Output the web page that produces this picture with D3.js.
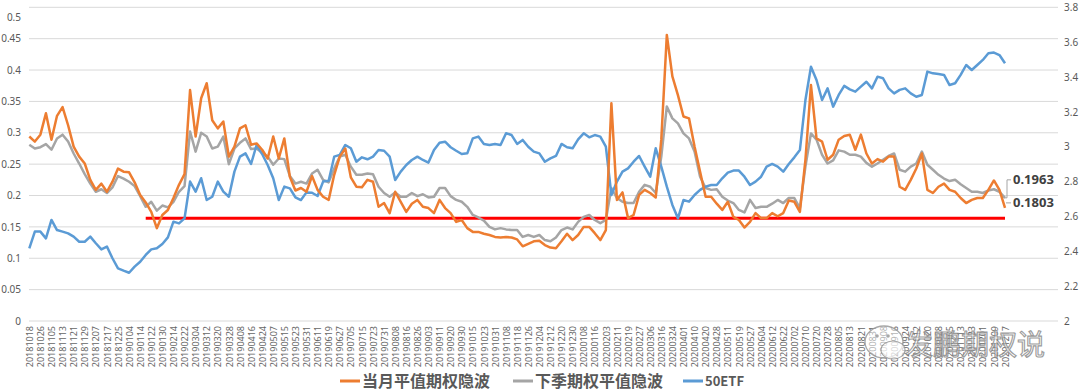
<!DOCTYPE html>
<html>
<head>
<meta charset="utf-8">
<script src="https://cdn.jsdelivr.net/npm/d3@7"></script>
<style>
  body { margin: 0; background: #fff; }
  svg { display: block; }
  text { font-family: "Noto Sans", "Noto Sans CJK SC", sans-serif; }
</style>
</head>
<body>
<svg id="chart" width="1080" height="392"></svg>
<script>
// tick labels, one every 6 trading days (= every 2nd data point)
const dateLabels = [
  "20181018","20181026","20181105","20181113","20181121","20181129","20181207","20181217","20181225",
  "20190104","20190114","20190122","20190130","20190214","20190222","20190304","20190312","20190320","20190328",
  "20190408","20190416","20190424","20190507","20190515","20190523","20190531","20190611","20190619","20190627",
  "20190705","20190715","20190723","20190731","20190808","20190816","20190826","20190903","20190911","20190920",
  "20190930","20191015","20191023","20191031","20191108","20191118","20191126","20191204","20191212","20191220",
  "20191230","20200108","20200116","20200203","20200211","20200219","20200227","20200306","20200316","20200324",
  "20200401","20200410","20200420","20200428","20200511","20200519","20200527","20200604","20200612","20200622",
  "20200702","20200710","20200720","20200728","20200805","20200813","20200821","20200831","20200908","20200916",
  "20200924","20201012","20201020","20201028","20201105","20201113","20201123","20201201","20201209","20201217"
];

// 当月平值期权隐波 (every 3rd trading day)
const ivFront = [
  0.294,0.286,0.297,0.331,0.289,0.327,0.341,0.312,0.278,0.262,0.251,0.225,0.209,0.219,0.206,0.222,0.243,0.238,0.237,0.221,
  0.201,0.189,0.174,0.148,0.169,0.177,0.196,0.217,0.234,0.368,0.294,0.355,0.379,0.320,0.307,0.318,0.262,0.278,0.307,0.312,
  0.281,0.283,0.273,0.259,0.294,0.259,0.291,0.230,0.208,0.212,0.206,0.231,0.209,0.198,0.193,0.233,0.262,0.275,0.229,0.214,
  0.213,0.225,0.222,0.182,0.188,0.172,0.206,0.190,0.174,0.187,0.193,0.182,0.180,0.172,0.193,0.180,0.172,0.158,0.161,0.148,
  0.142,0.142,0.139,0.137,0.134,0.133,0.134,0.133,0.130,0.119,0.123,0.127,0.128,0.121,0.117,0.116,0.127,0.139,0.129,0.137,
  0.150,0.150,0.140,0.129,0.145,0.347,0.193,0.205,0.164,0.169,0.201,0.209,0.204,0.197,0.289,0.456,0.390,0.360,0.326,0.323,
  0.278,0.238,0.198,0.198,0.187,0.177,0.190,0.166,0.161,0.149,0.158,0.172,0.164,0.164,0.172,0.167,0.172,0.192,0.190,0.174,
  0.257,0.376,0.291,0.286,0.257,0.265,0.289,0.295,0.297,0.273,0.297,0.267,0.251,0.258,0.254,0.262,0.262,0.214,0.209,0.225,
  0.243,0.267,0.209,0.204,0.214,0.219,0.209,0.206,0.196,0.188,0.193,0.196,0.196,0.209,0.224,0.209,0.1803
];

// 下季期权平值隐波
const ivNext = [
  0.281,0.275,0.277,0.282,0.273,0.291,0.297,0.286,0.267,0.251,0.234,0.219,0.206,0.210,0.204,0.213,0.231,0.227,0.222,0.215,
  0.199,0.182,0.190,0.176,0.184,0.181,0.190,0.206,0.215,0.302,0.270,0.300,0.294,0.275,0.278,0.294,0.250,0.275,0.284,0.291,
  0.274,0.275,0.268,0.262,0.249,0.259,0.258,0.231,0.219,0.222,0.219,0.235,0.241,0.225,0.221,0.243,0.262,0.265,0.246,0.233,
  0.233,0.235,0.234,0.214,0.204,0.198,0.205,0.198,0.198,0.204,0.199,0.202,0.197,0.198,0.212,0.212,0.199,0.193,0.190,0.182,
  0.169,0.165,0.160,0.150,0.146,0.148,0.146,0.145,0.145,0.134,0.137,0.134,0.137,0.129,0.127,0.133,0.145,0.149,0.146,0.158,
  0.166,0.169,0.161,0.156,0.161,0.212,0.196,0.190,0.188,0.188,0.206,0.217,0.214,0.204,0.262,0.342,0.323,0.315,0.299,0.291,
  0.270,0.230,0.212,0.209,0.210,0.198,0.192,0.188,0.177,0.173,0.193,0.180,0.182,0.182,0.187,0.193,0.188,0.196,0.196,0.180,
  0.246,0.299,0.289,0.265,0.251,0.256,0.272,0.270,0.265,0.265,0.262,0.252,0.246,0.251,0.257,0.263,0.267,0.241,0.238,0.246,
  0.251,0.270,0.249,0.241,0.233,0.227,0.223,0.225,0.218,0.212,0.206,0.206,0.204,0.208,0.210,0.206,0.1963
];

// 50ETF (right axis)
const etf = [
  2.417,2.513,2.513,2.474,2.580,2.522,2.513,2.503,2.484,2.455,2.455,2.484,2.446,2.411,2.427,2.360,2.302,2.289,2.277,2.312,
  2.340,2.379,2.411,2.417,2.442,2.480,2.570,2.560,2.589,2.800,2.742,2.819,2.694,2.713,2.800,2.742,2.713,2.857,2.943,2.962,
  2.901,3.010,2.958,2.895,2.819,2.694,2.771,2.761,2.710,2.694,2.738,2.736,2.717,2.800,2.805,2.943,2.953,3.010,2.991,2.914,
  2.939,2.928,2.943,2.981,2.977,2.943,2.809,2.857,2.895,2.924,2.943,2.924,2.909,2.981,3.023,3.029,2.997,2.977,2.958,2.962,
  3.048,3.058,3.016,3.010,3.016,3.010,3.077,3.067,3.016,3.039,3.000,2.972,2.962,2.914,2.933,2.947,3.016,2.997,2.991,3.042,
  3.077,3.054,3.067,3.058,3.000,2.723,2.800,2.857,2.876,2.914,2.947,2.886,2.828,2.991,2.886,2.771,2.666,2.589,2.694,2.685,
  2.723,2.752,2.771,2.780,2.780,2.819,2.851,2.863,2.863,2.828,2.780,2.800,2.828,2.886,2.901,2.886,2.857,2.901,2.939,2.981,
  3.268,3.459,3.383,3.268,3.335,3.230,3.297,3.349,3.329,3.316,3.345,3.373,3.335,3.402,3.393,3.335,3.306,3.326,3.335,3.306,
  3.287,3.297,3.431,3.421,3.417,3.412,3.354,3.364,3.412,3.469,3.440,3.469,3.498,3.536,3.540,3.526,3.479
];

const leftTicks = [0, 0.05, 0.1, 0.15, 0.2, 0.25, 0.3, 0.35, 0.4, 0.45, 0.5];
const rightTicks = [2, 2.2, 2.4, 2.6, 2.8, 3, 3.2, 3.4, 3.6, 3.8];
const redLevel = 0.1637;   // 红色参考线
const redFrom = 21;        // 从第21个点开始画

const seriesNames = ["当月平值期权隐波", "下季期权平值隐波", "50ETF"];
const colors = ["#ED7D31", "#A5A5A5", "#5B9BD5"];


var svg = d3.select("#chart");
var idx = d3.range(ivFront.length);

var x = d3.scalePoint().domain(idx).range([29.3, 1005]);
var yL = d3.scaleLinear().domain([0, 0.5]).range([321, 7.3]);
var yR = d3.scaleLinear().domain([2, 3.8]).range([321, 7.3]);

// gridlines
svg.append("g")
  .selectAll("line")
  .data(leftTicks)
  .enter()
  .append("line")
  .attr("x1", 29).attr("x2", 1058)
  .attr("y1", d => yL(d)).attr("y2", d => yL(d))
  .attr("stroke", "#d9d9d9")
  .attr("stroke-width", 1);

// left axis
var axL = svg.append("g")
  .attr("transform", "translate(21,0)")
  .call(d3.axisLeft(yL).tickValues(leftTicks).tickSize(0).tickPadding(0).tickFormat(d3.format("~g")));
axL.select(".domain").remove();
axL.selectAll("text")
  .attr("fill", "#595959").style("font-size", "10px")
  .attr("dy", d => d === 0.5 ? "1.3em" : "0.32em");

// right axis
var axR = svg.append("g")
  .attr("transform", "translate(1064,0)")
  .call(d3.axisRight(yR).tickValues(rightTicks).tickSize(0).tickPadding(0).tickFormat(d3.format("~g")));
axR.select(".domain").remove();
axR.selectAll("text").attr("fill", "#595959").style("font-size", "10px");

// bottom date axis
var axB = svg.append("g")
  .attr("transform", "translate(0,324)")
  .call(d3.axisBottom(x)
    .tickValues(dateLabels.map((d, i) => i * 2))
    .tickSize(0)
    .tickFormat(i => dateLabels[i / 2]));
axB.select(".domain").remove();
axB.selectAll("text")
  .attr("fill", "#666")
  .style("font-size", "9px")
  .attr("transform", "rotate(-90)")
  .attr("text-anchor", "end")
  .attr("x", -2)
  .attr("y", 0)
  .attr("dy", "0.35em");

// red reference line
svg.append("line")
  .attr("x1", x(redFrom)).attr("x2", x(idx[idx.length - 1]))
  .attr("y1", yL(redLevel)).attr("y2", yL(redLevel))
  .attr("stroke", "#FF0000")
  .attr("stroke-width", 3);

// series lines
var lineL = d3.line().x((d, i) => x(i)).y(d => yL(d));
var lineR = d3.line().x((d, i) => x(i)).y(d => yR(d));

svg.append("path").datum(ivNext)
  .attr("d", lineL).attr("fill", "none")
  .attr("stroke", colors[1]).attr("stroke-width", 2.5).attr("stroke-linejoin", "round");

svg.append("path").datum(etf)
  .attr("d", lineR).attr("fill", "none")
  .attr("stroke", colors[2]).attr("stroke-width", 2.5).attr("stroke-linejoin", "round");

svg.append("path").datum(ivFront)
  .attr("d", lineL).attr("fill", "none")
  .attr("stroke", colors[0]).attr("stroke-width", 2.5).attr("stroke-linejoin", "round");

// last value callouts
var last = idx.length - 1;
var gy = yL(ivNext[last]), oy = yL(ivFront[last]);
var lab = svg.append("g");
lab.append("path")
  .attr("d", `M${x(last) - 1},${gy} L${x(last) + 2},${gy} L${x(last) + 2},${gy - 18} L${x(last) + 6},${gy - 18}`)
  .attr("fill", "none").attr("stroke", "#a5a5a5").attr("stroke-width", 1);
lab.append("text")
  .attr("x", x(last) + 8).attr("y", gy - 18).attr("dy", "0.35em")
  .attr("fill", "#404040").style("font-size", "13px").style("font-weight", "bold")
  .text(ivNext[last].toFixed(4));
lab.append("path")
  .attr("d", `M${x(last) + 1},${oy - 5} L${x(last) + 6},${oy - 5}`)
  .attr("fill", "none").attr("stroke", "#a5a5a5").attr("stroke-width", 1);
lab.append("text")
  .attr("x", x(last) + 8).attr("y", oy - 5).attr("dy", "0.35em")
  .attr("fill", "#404040").style("font-size", "13px").style("font-weight", "bold")
  .text(ivFront[last].toFixed(4));

// legend
var legX = [340, 513, 683];
var leg = svg.append("g").attr("transform", "translate(0,381)");
seriesNames.forEach((name, i) => {
  leg.append("line")
    .attr("x1", legX[i]).attr("x2", legX[i] + 20)
    .attr("stroke", colors[i]).attr("stroke-width", 3);
  leg.append("text")
    .attr("x", legX[i] + 22).attr("dy", "0.35em")
    .attr("fill", "#595959")
    .style("font-family", "'Noto Sans CJK SC', sans-serif")
    .style("font-size", i < 2 ? "16px" : "13px")
    .style("font-weight", "bold")
    .text(name);
});

// watermark
var wm = svg.append("g").attr("opacity", 0.85);
wm.append("ellipse").attr("cx", 884).attr("cy", 342).attr("rx", 19).attr("ry", 16)
  .attr("fill", "rgba(255,255,255,0.6)").attr("stroke", "#999").attr("stroke-width", 1.3);
wm.append("ellipse").attr("cx", 893).attr("cy", 350).attr("rx", 12).attr("ry", 9)
  .attr("fill", "rgba(255,255,255,0.7)").attr("stroke", "#999").attr("stroke-width", 1.2);
wm.append("circle").attr("cx", 877).attr("cy", 336).attr("r", 1.8).attr("fill", "#999");
wm.append("circle").attr("cx", 888).attr("cy", 336).attr("r", 1.8).attr("fill", "#999");
wm.append("text")
  .attr("x", 905).attr("y", 345).attr("dy", "0.35em")
  .style("font-family", "'Noto Sans CJK SC', sans-serif")
  .style("font-size", "28px")
  .attr("fill", "rgba(255,255,255,0.75)")
  .attr("stroke", "#8a8a8a").attr("stroke-width", 1.1)
  .text("发鹏期权说");
</script>
</body>
</html>
